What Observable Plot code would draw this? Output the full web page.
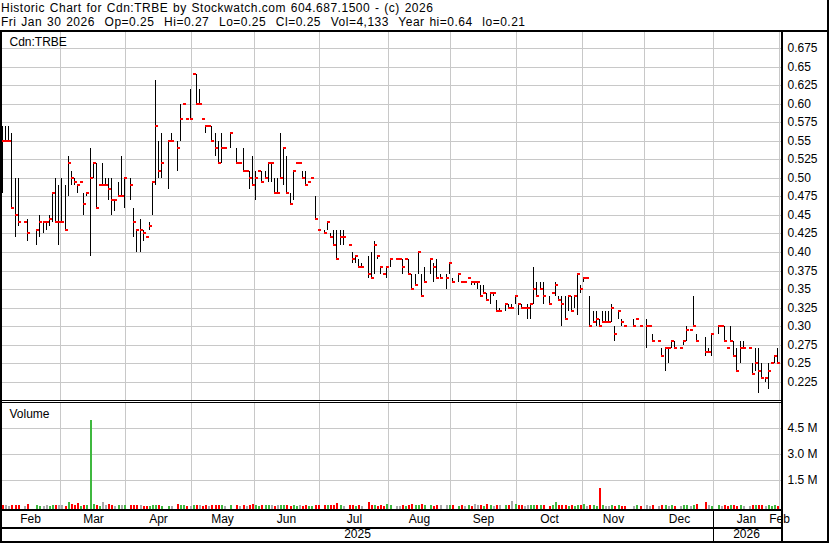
<!DOCTYPE html>
<html>
<head>
<meta charset="utf-8">
<script src="https://cdn.jsdelivr.net/npm/d3@7"></script>
<script src="https://cdn.jsdelivr.net/npm/@observablehq/plot@0.6"></script>
<style>
  html, body { margin: 0; padding: 0; background: #fff; }
  #chart { position: relative; width: 830px; height: 543px; background: #fff; overflow: hidden;
           font-family: "Liberation Sans", Arial, sans-serif; font-size: 12px; color: #000; }
  .hdr { position: absolute; left: 1px; white-space: pre; font-size: 12px; line-height: 14px;
         letter-spacing: 0.5px; word-spacing: 1px; }
  .ln { position: absolute; background: #000; }
  .panel { position: absolute; left: 0; }
  .panel svg { display: block; }
</style>
</head>
<body>
<div id="chart">
  <div class="hdr" id="h1" style="top:1px"></div>
  <div class="hdr" id="h2" style="top:15px"></div>
  <div class="panel" id="price" style="top:32px"></div>
  <div class="panel" id="volume" style="top:402px"></div>
  <div class="panel" id="axis" style="top:511px"></div>
  <div class="ln" style="left:0;top:30px;width:829px;height:2px"></div>
  <div class="ln" style="left:0;top:30px;width:2px;height:513px"></div>
  <div class="ln" style="left:781px;top:30px;width:2px;height:513px"></div>
  <div class="ln" style="left:827px;top:0;width:2px;height:543px"></div>
  <div class="ln" style="left:0;top:541px;width:829px;height:2px"></div>
  <div class="ln" style="left:0;top:400px;width:781px;height:1px"></div>
  <div class="ln" style="left:0;top:402px;width:781px;height:1px"></div>
  <div class="ln" style="left:0;top:509px;width:781px;height:2px"></div>
  <div class="ln" style="left:0;top:527px;width:781px;height:2px"></div>
</div>
<script>
// ---- header texts ----
const titleText = "Historic Chart for Cdn:TRBE by Stockwatch.com 604.687.1500 - (c) 2026";
const quoteText = "Fri Jan 30 2026  Op=0.25  Hi=0.27  Lo=0.25  Cl=0.25  Vol=4,133  Year hi=0.64  lo=0.21";
const symbolLabel = "Cdn:TRBE";
const volumeLabel = "Volume";

// ---- trading-day index of each bar (0 = first trading day of Feb 2025) ----
const days = [
  0,1,2,3,4,5,7,8,11,12,13,14,15,16,17,18,
  19,20,21,22,23,24,25,26,27,28,29,30,31,32,33,34,35,36,37,38,39,
  41,42,43,44,45,46,47,48,49,50,51,53,54,56,57,58,59,60,
  61,62,63,64,65,66,67,68,69,70,71,73,75,76,77,78,79,80,
  81,82,83,84,85,86,87,88,89,90,91,92,93,94,95,96,97,98,99,100,101,
  103,104,105,106,107,108,109,111,112,113,114,115,117,118,119,120,121,122,123,
  124,126,127,128,129,130,131,132,133,134,135,137,138,139,140,142,143,
  144,146,147,148,149,150,151,152,153,154,155,156,157,158,159,161,162,163,164,
  165,166,167,168,169,170,171,172,173,175,176,177,178,179,180,181,182,183,184,185,
  186,187,188,189,190,191,192,193,194,195,196,197,198,199,202,203,204,
  206,207,208,210,211,212,213,214,215,217,218,219,220,221,222,225,226,227,
  229,230,231,232,233,234,235,236,237,239,240,241,242,243,244,245,246,247,248
];
const highs = [
  .57,.57,.57,.56,.50,.50,.44,.445,.43,.45,.44,.44,.45,.48,.50,.49,
  .50,.49,.53,.51,.50,.49,.495,.48,.48,.54,.52,.52,.49,.52,.50,.50,.50,.47,.495,.53,.50,
  .50,.46,.43,.445,.43,.42,.44,.495,.632,.55,.56,.55,.56,.55,.60,.60,.58,.62,
  .64,.64,.62,.58,.57,.57,.57,.56,.55,.56,.54,.56,.54,.52,.54,.51,.51,.53,
  .51,.51,.51,.51,.52,.52,.50,.50,.56,.54,.53,.48,.51,.52,.52,.51,.51,.495,.50,.475,.43,
  .43,.44,.425,.43,.43,.43,.43,.41,.40,.395,.39,.385,.395,.40,.415,.395,.38,.37,.38,
  .39,.39,.39,.39,.39,.39,.37,.37,.40,.37,.38,.39,.385,.39,.37,.37,.385,
  .365,.37,.36,.36,.365,.36,.36,.36,.355,.355,.345,.345,.345,.335,.325,.33,.33,.33,.34,
  .33,.33,.325,.33,.33,.38,.36,.36,.36,.34,.345,.36,.34,.34,.34,.34,.34,.34,.37,.355,
  .365,.365,.34,.32,.32,.31,.32,.32,.32,.33,.30,.32,.31,.30,.31,.31,.30,
  .31,.30,.29,.28,.27,.27,.27,.28,.28,.27,.28,.30,.295,.34,.29,.285,.27,.29,
  .30,.30,.30,.27,.30,.28,.27,.28,.28,.27,.25,.27,.27,.25,.23,.25,.25,.26,.27
];
const lows = [
  .48,.55,.55,.46,.42,.435,.44,.415,.41,.42,.425,.43,.435,.44,.44,.41,
  .44,.43,.475,.49,.49,.48,.495,.45,.475,.395,.50,.46,.49,.49,.49,.47,.45,.455,.475,.475,.46,
  .47,.42,.40,.40,.415,.42,.43,.45,.49,.50,.50,.485,.55,.51,.55,.60,.58,.58,
  .64,.60,.60,.58,.56,.57,.55,.53,.52,.52,.54,.54,.52,.52,.51,.51,.485,.49,
  .47,.51,.495,.50,.495,.495,.48,.48,.50,.49,.48,.465,.47,.52,.52,.50,.49,.495,.50,.445,.43,
  .425,.43,.42,.41,.39,.41,.41,.41,.385,.385,.38,.38,.365,.365,.37,.39,.37,.37,.365,
  .38,.39,.39,.37,.39,.37,.35,.355,.37,.34,.36,.37,.36,.365,.365,.35,.37,
  .36,.36,.36,.36,.365,.355,.355,.35,.34,.345,.335,.33,.34,.32,.32,.32,.325,.325,.33,
  .315,.325,.325,.31,.31,.33,.34,.35,.33,.33,.345,.34,.335,.30,.31,.32,.32,.325,.315,.345,
  .36,.365,.30,.305,.30,.30,.305,.305,.305,.305,.28,.31,.30,.30,.30,.31,.30,
  .27,.30,.28,.28,.26,.24,.25,.27,.27,.27,.275,.28,.295,.30,.28,.26,.265,.26,
  .29,.30,.28,.27,.28,.26,.24,.25,.27,.27,.235,.24,.21,.23,.225,.215,.25,.25,.25
];
const closes = [
  .55,.55,.55,.46,.45,.44,.44,.425,.43,.44,.44,.44,.445,.48,.44,.44,
  .44,.43,.52,.50,.495,.49,.495,.465,.48,.50,.52,.46,.49,.49,.49,.485,.47,.47,.475,.475,.50,
  .49,.44,.43,.43,.425,.42,.435,.495,.57,.51,.52,.55,.55,.54,.58,.60,.58,.58,
  .64,.60,.60,.58,.57,.57,.55,.54,.52,.54,.54,.56,.52,.52,.51,.51,.50,.49,
  .50,.51,.495,.50,.52,.52,.48,.48,.50,.54,.48,.465,.51,.52,.52,.50,.49,.495,.50,.445,.43,
  .425,.44,.42,.41,.39,.42,.42,.41,.39,.395,.38,.38,.37,.365,.41,.395,.38,.37,.38,
  .39,.39,.39,.38,.39,.37,.35,.355,.40,.34,.36,.39,.38,.365,.365,.365,.385,
  .36,.37,.36,.36,.365,.36,.36,.36,.34,.345,.335,.345,.345,.32,.32,.33,.325,.325,.34,
  .33,.325,.325,.325,.33,.35,.34,.35,.34,.33,.345,.355,.335,.33,.31,.34,.32,.34,.37,.35,
  .365,.365,.30,.305,.31,.30,.305,.305,.305,.325,.29,.32,.305,.30,.30,.31,.30,
  .30,.30,.28,.28,.26,.27,.27,.28,.27,.27,.28,.295,.295,.30,.28,.265,.265,.29,
  .30,.30,.28,.27,.28,.26,.24,.27,.27,.27,.235,.25,.24,.23,.23,.24,.25,.26,.25
];
// volume in millions of shares
const volumes = [
  .06,.05,.04,.07,.06,.05,.03,.15,.05,.04,.04,.05,.04,.06,.08,.05,
  .05,.04,.27,.15,.05,.18,.03,.06,.05,5.0,.12,.06,.04,.25,.05,.12,.05,.04,.06,.05,.06,
  .08,.06,.05,.05,.04,.03,.04,.05,.07,.05,.04,.04,.03,.15,.05,.05,.04,.04,
  .05,.06,.05,.04,.05,.03,.06,.05,.06,.05,.03,.10,.05,.04,.06,.04,.05,.15,
  .06,.04,.05,.05,.06,.05,.04,.05,.07,.06,.05,.04,.06,.04,.05,.04,.05,.03,.04,.08,.05,
  .05,.06,.05,.07,.18,.05,.04,.05,.06,.04,.05,.04,.23,.06,.05,.04,.05,.04,.16,
  .05,.04,.04,.06,.04,.06,.15,.05,.06,.12,.05,.05,.04,.06,.05,.06,.05,
  .05,.04,.05,.04,.05,.03,.12,.05,.06,.04,.12,.05,.04,.06,.05,.05,.05,.28,.15,
  .08,.05,.04,.05,.06,.10,.06,.05,.05,.04,.05,.22,.05,.06,.05,.04,.05,.04,.08,.06,
  .15,.04,.06,.05,.04,1.04,.05,.04,.04,.05,.04,.05,.04,.03,.04,.05,.04,
  .06,.04,.05,.04,.05,.06,.04,.05,.04,.03,.05,.06,.04,.05,.12,.27,.05,.04,
  .05,.04,.05,.04,.06,.05,.04,.05,.04,.03,.05,.06,.10,.05,.04,.05,.04,.05,.004
];

// ---- axes ----
const monthNames = ["Feb","Mar","Apr","May","Jun","Jul","Aug","Sep","Oct","Nov","Dec","Jan","Feb"];
const monthStarts = [0,19,40,61,81,102,124,144,165,186,206,228,249];
const yearNames = ["2025","2026"];
const yearStarts = [0,228];
const dayCount = 249;
const priceTicks = [0.225,0.25,0.275,0.3,0.325,0.35,0.375,0.4,0.425,0.45,0.475,0.5,0.525,0.55,0.575,0.6,0.625,0.65,0.675];
const priceTickLabels = ["0.225","0.25","0.275","0.30","0.325","0.35","0.375","0.40","0.425","0.45","0.475","0.50","0.525","0.55","0.575","0.60","0.625","0.65","0.675"];
const volTicks = [1.5, 3.0, 4.5];
const volTickLabels = ["1.5 M","3.0 M","4.5 M"];

// ---- build ----
document.getElementById("h1").textContent = titleText;
document.getElementById("h2").textContent = quoteText;

const UP = "#3fb83f", DOWN = "#ff0000", FLAT = "#a8a8a8";
const bars = days.map((d, k) => ({
  day: d, hi: highs[k], lo: lows[k], cl: closes[k], vol: volumes[k],
  color: k === 0 ? DOWN : closes[k] > closes[k - 1] ? UP : closes[k] < closes[k - 1] ? DOWN : FLAT
}));
const gridDays = monthStarts.slice(1).map(s => s - 0.5);
const monthMid = monthStarts.map((s, i) => (s + (i + 1 < monthStarts.length ? monthStarts[i + 1] : dayCount) - 1) / 2);
const yearMid = yearStarts.map((s, i) => (s + (i + 1 < yearStarts.length ? yearStarts[i + 1] : dayCount) - 1) / 2);

const FONT = "Liberation Sans, Arial, sans-serif";
const xOpt = () => ({domain: [0, 249.28], round: true, axis: null});
const common = {width: 830, marginLeft: 2, marginRight: 49, marginTop: 0, marginBottom: 0,
  style: {background: "transparent", fontFamily: FONT, fontSize: "12px", color: "#000", overflow: "visible"}};
const GRID = "#c8c8c8";

const priceChart = Plot.plot({
  ...common, height: 368,
  x: xOpt(),
  y: {domain: [0.2003, 0.6969], round: true, axis: null},
  marks: [
    Plot.ruleY(priceTicks, {stroke: GRID}),
    Plot.ruleX(gridDays, {stroke: GRID}),
    Plot.axisY({ticks: priceTicks, anchor: "right", tickSize: 0, tickPadding: 6, label: null,
      tickFormat: d => priceTickLabels[priceTicks.indexOf(d)], fontSize: 12, fill: "#000"}),
    Plot.ruleX(bars, {x: "day", y1: "lo", y2: "hi", stroke: "#000", strokeWidth: 1}),
    Plot.rect(bars, {x1: "day", x2: "day", y1: "cl", y2: "cl", insetLeft: 0, insetRight: -3,
      insetTop: -1, insetBottom: -1, fill: "#ff0000", shapeRendering: "crispEdges"}),
    Plot.text([symbolLabel], {text: d => d, frameAnchor: "top-left", dx: 7, dy: 5, fontSize: 12,
      fill: "#000", style: "letter-spacing:0.5px"})
  ]
});
document.getElementById("price").appendChild(priceChart);

const volDomain = [-0.156, 6.017];
const volumeChart = Plot.plot({
  ...common, height: 107,
  x: xOpt(),
  y: {domain: volDomain, round: true, axis: null},
  color: {type: "identity"},
  marks: [
    Plot.ruleY(volTicks, {stroke: GRID}),
    Plot.ruleX(gridDays, {stroke: GRID}),
    Plot.axisY({ticks: volTicks, anchor: "right", tickSize: 0, tickPadding: 6, label: null,
      tickFormat: d => volTickLabels[volTicks.indexOf(d)], fontSize: 12, fill: "#000"}),
    Plot.rect(bars, {x1: "day", x2: "day", y1: () => volDomain[0], y2: "vol", insetLeft: 0, insetRight: -2,
      fill: "color", shapeRendering: "crispEdges"}),
    Plot.text([volumeLabel], {text: d => d, frameAnchor: "top-left", dx: 7, dy: 7, fontSize: 12, fill: "#000"})
  ]
});
document.getElementById("volume").appendChild(volumeChart);

const axisChart = Plot.plot({
  ...common, height: 30,
  x: xOpt(),
  marks: [
    Plot.ruleX([yearStarts[1] - 0.5], {stroke: "#000"}),
    Plot.text(monthNames, {x: (d, i) => monthMid[i], text: d => d, frameAnchor: "top", dy: 3, fontSize: 12, fill: "#000"}),
    Plot.text(yearNames, {x: (d, i) => yearMid[i], text: d => d, frameAnchor: "top", dy: 18, fontSize: 12, fill: "#000"})
  ]
});
document.getElementById("axis").appendChild(axisChart);
</script>
</body>
</html>
